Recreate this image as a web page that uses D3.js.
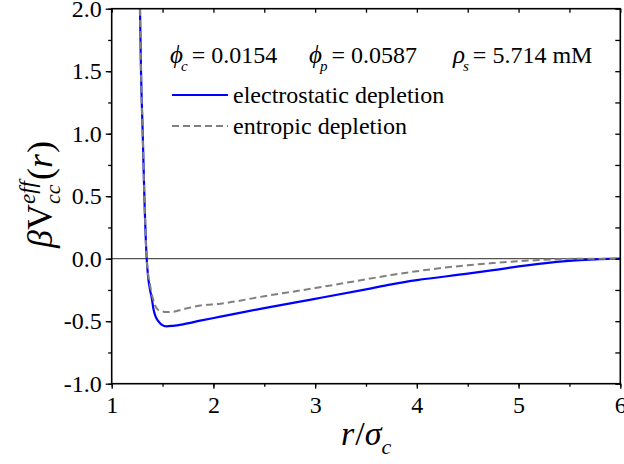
<!DOCTYPE html>
<html><head><meta charset="utf-8">
<script src="https://cdn.jsdelivr.net/npm/d3@7"></script>
</head><body style="margin:0">
<svg id="chart" width="624" height="464" style="display:block;background:#fff"></svg>
<script>
// ---- data ----
const rValues = [1.278, 1.288, 1.305, 1.321, 1.344, 1.36, 1.377, 1.393, 1.41, 1.43, 1.458, 1.49, 1.54, 1.60, 1.70, 1.87, 2.07, 2.5, 3.0, 3.5, 3.75, 4.0, 4.5, 4.75, 5.0, 5.375, 5.6, 5.8, 6.0];
const electrostatic = [2.0, 1.5, 1.0, 0.5, 0.0, -0.16, -0.25, -0.31, -0.40, -0.46, -0.50, -0.527, -0.541, -0.537, -0.525, -0.496, -0.464, -0.395, -0.321, -0.245, -0.205, -0.172, -0.12, -0.092, -0.062, -0.026, -0.011, -0.003, 0.0];
const entropic = [2.0, 1.5, 1.0, 0.5, 0.0, -0.14, -0.21, -0.28, -0.33, -0.38, -0.41, -0.42, -0.427, -0.425, -0.405, -0.375, -0.36, -0.30, -0.235, -0.165, -0.13, -0.10, -0.052, -0.035, -0.02, -0.005, 0.0, 0.0, 0.0];
const xTicks = [1, 2, 3, 4, 5, 6];
const yTicks = [-1.0, -0.5, 0.0, 0.5, 1.0, 1.5, 2.0];
const seriesNames = ["electrostatic depletion", "entropic depletion"];

const W = 624, H = 464;
const m = {left: 111.7, right: 3.7, top: 8.7, bottom: 80.3};
const svg = d3.select("#chart");
const FONT = "Liberation Serif";

const x = d3.scaleLinear().domain([1, 6]).range([m.left, W - m.right]);
const y = d3.scaleLinear().domain([-1, 2]).range([H - m.bottom, m.top]);

const xMinor = d3.range(1, 6.01, 0.5);
const yMinor = d3.range(-1, 2.01, 0.25);

function txt(parent, s, x0, y0, size, italic) {
  return parent.append("text").attr("x", x0).attr("y", y0)
    .style("font-family", FONT).style("font-size", size + "px")
    .style("font-style", italic ? "italic" : "normal").style("fill", "#000").text(s);
}

// zero line
svg.append("line").attr("x1", x(1)).attr("x2", x(6)).attr("y1", y(0)).attr("y2", y(0))
  .attr("stroke", "#555").attr("stroke-width", 1.2);

// curves
const line = d3.line().x((d, i) => x(rValues[i])).y(d => y(d)).curve(d3.curveMonotoneX);
svg.append("path").datum(electrostatic).attr("d", line).attr("fill", "none")
  .attr("stroke", "#0000ff").attr("stroke-width", 2.2);
svg.append("path").datum(entropic).attr("d", line).attr("fill", "none")
  .attr("stroke", "#808080").attr("stroke-width", 2).attr("stroke-dasharray", "7,4");

// axes
function styleAxis(g) {
  g.select(".domain").remove();
  g.attr("font-family", null).attr("font-size", null);
  g.selectAll(".tick line").attr("stroke", "#000").attr("stroke-width", 1.3);
  g.selectAll("text").style("font-family", FONT).style("font-size", "24px").style("fill", "#000");
}
const fmtY = d => d.toFixed(1);
svg.append("g").attr("transform", `translate(0,${y(-1)})`)
  .call(d3.axisBottom(x).tickValues(xMinor).tickSize(3).tickFormat("")).call(styleAxis);
svg.append("g").attr("transform", `translate(0,${y(-1)})`)
  .call(d3.axisBottom(x).tickValues(xTicks).tickSize(5).tickPadding(7).tickFormat(d3.format("d"))).call(styleAxis);
svg.append("g").attr("transform", `translate(0,${y(2)})`)
  .call(d3.axisBottom(x).tickValues(xMinor).tickSize(4).tickFormat("")).call(styleAxis);
svg.append("g").attr("transform", `translate(${x(1)},0)`)
  .call(d3.axisLeft(y).tickValues(yMinor).tickSize(3.5).tickFormat("")).call(styleAxis);
svg.append("g").attr("transform", `translate(${x(1)},0)`)
  .call(d3.axisLeft(y).tickValues(yTicks).tickSize(6).tickPadding(4).tickFormat(fmtY)).call(styleAxis);
svg.append("g").attr("transform", `translate(${x(6)},0)`)
  .call(d3.axisLeft(y).tickValues(yMinor).tickSize(5).tickFormat("")).call(styleAxis);

// frame
svg.append("rect").attr("x", x(1)).attr("y", y(2)).attr("width", x(6) - x(1)).attr("height", y(-1) - y(2))
  .attr("fill", "none").attr("stroke", "#000").attr("stroke-width", 1.6);

// rich text helper
function rich(parent, pieces, x0, y0) {
  const g = parent.append("g");
  let cx = x0;
  pieces.forEach(p => {
    const t = txt(g, p.t, cx + (p.dx || 0), y0 + (p.dy || 0), p.size, p.italic);
    const w = t.node().getComputedTextLength();
    cx += w + (p.dx || 0) + (p.after || 0);
  });
  return g;
}

// annotation
rich(svg, [
  {t: "ϕ", size: 25, italic: true},
  {t: "c", size: 15, italic: true, dy: 8, dx: -2, after: 4},
  {t: "= 0.0154", size: 24},
], 170, 63);
rich(svg, [
  {t: "ϕ", size: 25, italic: true},
  {t: "p", size: 15, italic: true, dy: 8, dx: -2, after: 4},
  {t: "= 0.0587", size: 24},
], 309, 63);
rich(svg, [
  {t: "ρ", size: 25, italic: true},
  {t: "s", size: 15, italic: true, dy: 8, dx: -2, after: 4},
  {t: "= 5.714 mM", size: 24},
], 453, 63);

// legend
const legY = [95, 126];
svg.append("line").attr("x1", 172).attr("x2", 228).attr("y1", legY[0]).attr("y2", legY[0])
  .attr("stroke", "#0000ff").attr("stroke-width", 2.2);
svg.append("line").attr("x1", 172).attr("x2", 228).attr("y1", legY[1]).attr("y2", legY[1])
  .attr("stroke", "#808080").attr("stroke-width", 2).attr("stroke-dasharray", "7,4");
seriesNames.forEach((s, i) => txt(svg, s, 233, legY[i] + 8, 24, false));

// x-axis title: r/σ_c
rich(svg, [
  {t: "r", size: 34, italic: true, after: 1},
  {t: "/", size: 34},
  {t: "σ", size: 34, italic: true},
  {t: "c", size: 22, italic: true, dy: 9},
], 341, 445);

// y-axis title: βV_cc^eff(r), rotated
const yg = svg.append("g").attr("transform", "translate(52,248) rotate(-90)");
(function () {
  let cx = 0;
  const add = (t, size, italic, dy) => {
    const el = txt(yg, t, cx, dy, size, italic);
    const w = el.node().getComputedTextLength();
    cx += w;
    return w;
  };
  add("β", 36, true, 0);
  add("V", 36, false, 0);
  const start = cx;
  const w1 = add("eff", 23, true, -17);
  cx = start;
  const w2 = add("cc", 22, true, 8);
  cx = start + Math.max(w1, w2) + 1;
  add("(", 36, false, 0);
  add("r", 36, true, 0);
  cx += 1;
  add(")", 36, false, 0);
})();
</script>
</body></html>
